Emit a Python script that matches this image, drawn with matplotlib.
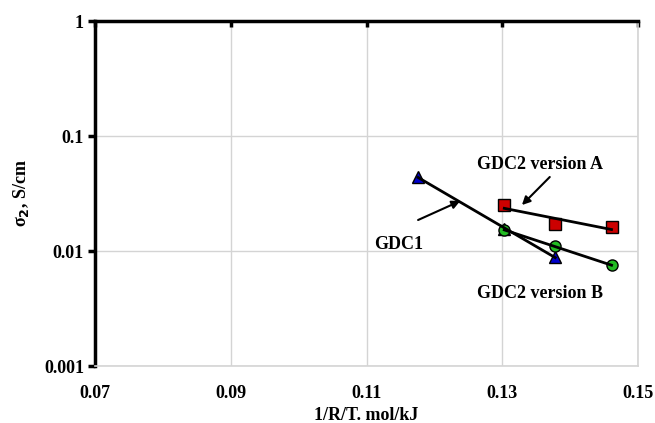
import numpy as np
import matplotlib
matplotlib.use('Agg')
import matplotlib.pyplot as plt
from matplotlib.ticker import FixedLocator, FuncFormatter

# 1/RT values (mol/kJ) and sigma_2 (S/cm)
gdc1_x = [0.1176, 0.1303, 0.1378]
gdc1_y = [0.044, 0.0155, 0.0089]
gdc2a_x = [0.1303, 0.1378, 0.1461]
gdc2a_y = [0.0249, 0.0172, 0.0162]
gdc2b_x = [0.1303, 0.1378, 0.1461]
gdc2b_y = [0.0152, 0.0110, 0.0075]

x_ticks = [0.07, 0.09, 0.11, 0.13, 0.15]
y_ticks = [0.001, 0.01, 0.1, 1]

plt.rcParams['font.family'] = ['Liberation Serif', 'DejaVu Serif']
plt.rcParams['font.weight'] = 'bold'
plt.rcParams['font.size'] = 13

fig = plt.figure(figsize=(6.55, 4.23), dpi=100)
ax = fig.add_axes([95 / 655, 1 - 366 / 423, (638 - 95) / 655, (366 - 21) / 423])

grid_c = '#d4d4d4'


def exp_trend(xs, ys):
    # Excel-style exponential trendline: straight line in log space
    k, b = np.polyfit(xs, np.log10(ys), 1)
    xx = np.array([min(xs), max(xs)])
    return xx, 10 ** (k * xx + b)


series = [
    (gdc1_x, gdc1_y, '^', '#0000cc', 9),
    (gdc2a_x, gdc2a_y, 's', '#cc0000', 8),
    (gdc2b_x, gdc2b_y, 'o', '#22bb22', 8),
]
for xs, ys, mk, col, ms in series:
    ax.plot(xs, ys, linestyle='none', marker=mk, markersize=ms,
            markerfacecolor=col, markeredgecolor='black', markeredgewidth=1.0, zorder=3)
    tx, ty = exp_trend(xs, ys)
    ax.plot(tx, ty, color='black', linewidth=2.0, zorder=4)

ax.set_yscale('log')
ax.set_xlim(0.07, 0.15)
ax.set_ylim(0.001, 1)
ax.xaxis.set_major_locator(FixedLocator(x_ticks))
ax.yaxis.set_major_locator(FixedLocator(y_ticks))
ax.yaxis.set_minor_locator(FixedLocator([]))
ax.xaxis.set_major_formatter(FuncFormatter(lambda v, p: f'{v:.2f}'))
ax.yaxis.set_major_formatter(FuncFormatter(lambda v, p: f'{v:g}'))

ax.grid(True, color=grid_c, linewidth=1.0)
ax.set_axisbelow(True)

for side in ['bottom', 'right']:
    ax.spines[side].set_color(grid_c)
    ax.spines[side].set_linewidth(1.2)
for side in ['top', 'left']:
    ax.spines[side].set_color('black')
    ax.spines[side].set_linewidth(2.5)

ax.tick_params(axis='x', top=True, bottom=False, labeltop=False, labelbottom=True,
               direction='in', length=4, width=2.5, pad=13.5)
ax.tick_params(axis='y', left=True, direction='out', length=5, width=2.5, pad=3)
ax.tick_params(axis='y', which='minor', left=False)

ax.set_xlabel('1/R/T. mol/kJ', fontweight='bold', labelpad=3.5)
ax.set_ylabel(r'σ$_{\mathbf{2}}$, S/cm', fontweight='bold')
ax.yaxis.set_label_coords(-0.117, 0.5)

arrow = dict(arrowstyle='-|>', color='black', lw=1.5, mutation_scale=12, shrinkA=0, shrinkB=0)
ax.text(0.1356, 0.056, 'GDC2 version A', ha='center', va='center', fontweight='bold')
ax.annotate('', xy=(0.1329, 0.0251), xytext=(0.1370, 0.044), arrowprops=arrow)
ax.text(0.1356, 0.00431, 'GDC2 version B', ha='center', va='center', fontweight='bold')
ax.text(0.1148, 0.0115, 'GDC1', ha='center', va='center', fontweight='bold')
ax.annotate('', xy=(0.1238, 0.0272), xytext=(0.1176, 0.0186), arrowprops=arrow)

fig.savefig('out.png', dpi=100)
